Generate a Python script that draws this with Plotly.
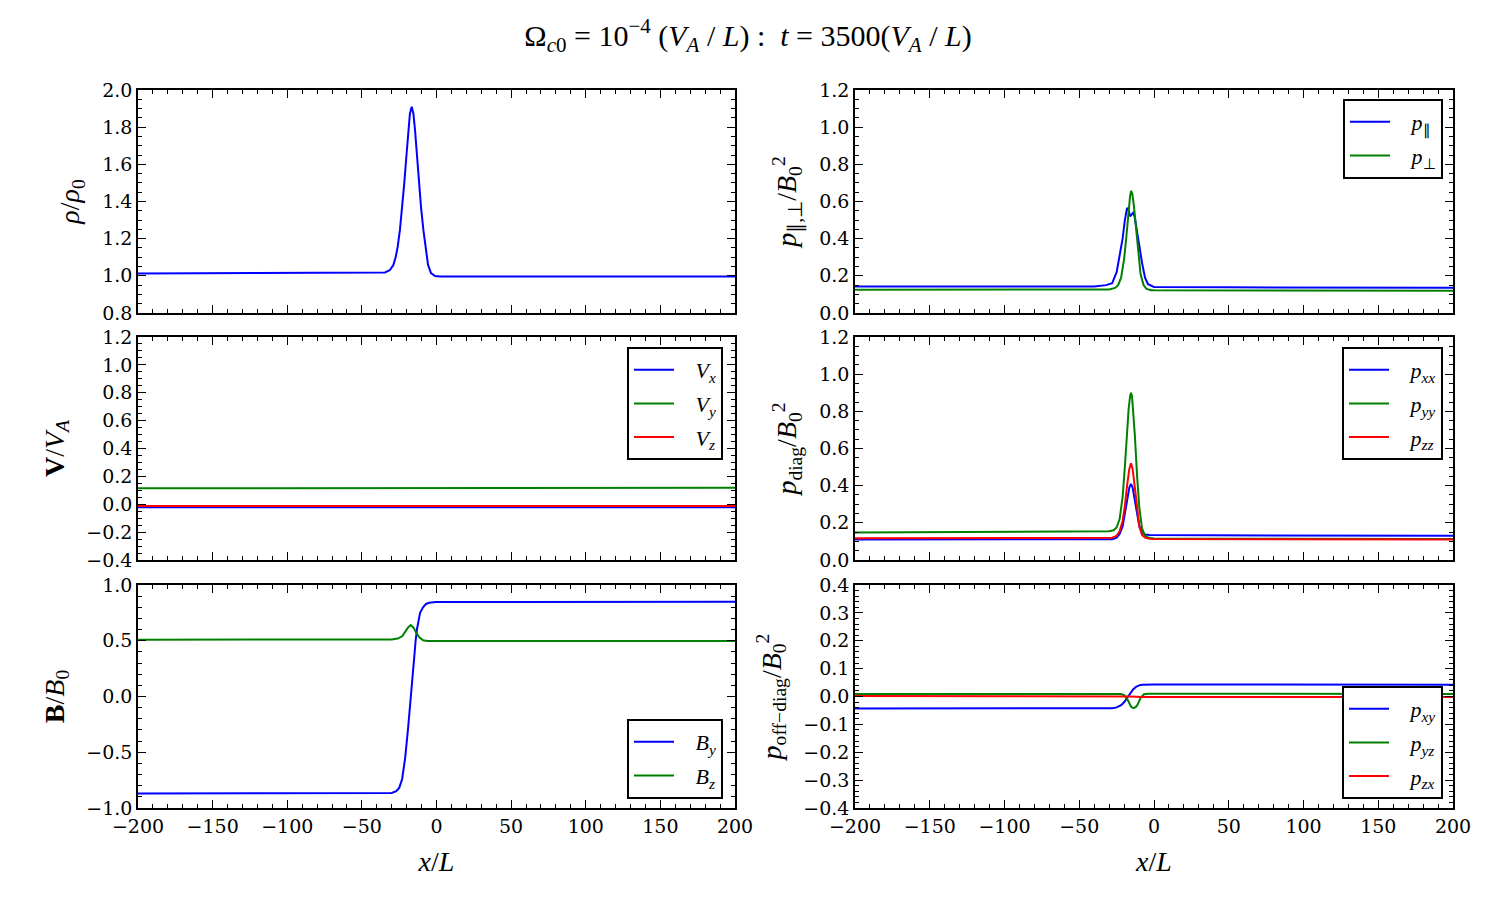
import plotly.graph_objects as go
from plotly.subplots import make_subplots

BLUE = "#0000ff"
GREEN = "#008000"
RED = "#ff0000"

# ---------------- data ----------------
# density
rho_x = [-200, -100, -40, -34.5, -31.2, -28.9, -27.3, -26.0, -24.5, -22.9, -21.6, -20.2, -18.9, -17.8, -16.6,
         -15.5, -14.4, -13.1, -11.7, -10.4, -8.8, -7.2, -5.7, -3.7, -1.0, 2.3, 100, 200]
rho_y = [1.013, 1.015, 1.016, 1.018, 1.031, 1.058, 1.103, 1.157, 1.247, 1.372, 1.498, 1.641, 1.785, 1.874, 1.910,
         1.874, 1.785, 1.641, 1.498, 1.372, 1.247, 1.14, 1.06, 1.015, 0.999, 0.996, 0.996, 0.997]

# velocity
vx_x = [-200, -100, 0, 100, 200]
vx_y = [-0.022, -0.022, -0.022, -0.022, -0.022]
vy_x = [-200, -100, 0, 100, 200]
vy_y = [0.114, 0.116, 0.117, 0.118, 0.119]
vz_x = [-200, -100, 0, 100, 200]
vz_y = [-0.012, -0.012, -0.012, -0.012, -0.012]

# magnetic field
by_x = [-200, -40, -30, -27, -25, -23, -21, -19, -17, -15, -14, -13, -11, -9, -7, -5, -2, 0, 50, 200]
by_y = [-0.87, -0.87, -0.865, -0.85, -0.82, -0.74, -0.55, -0.28, 0.0, 0.34, 0.50, 0.61, 0.75, 0.80, 0.83, 0.84, 0.845, 0.847, 0.848, 0.85]
bz_x = [-200, -40, -30, -26, -23, -21, -19, -17.3, -15.5, -13.5, -11.5, -9, -6, -2, 0, 200]
bz_y = [0.51, 0.51, 0.512, 0.52, 0.54, 0.58, 0.62, 0.64, 0.62, 0.57, 0.53, 0.505, 0.498, 0.498, 0.498, 0.497]

# parallel / perpendicular pressure
ppar_x = [-200, -100, -40, -32, -28, -25, -23, -21, -19.5, -18, -17, -16, -15, -14, -13, -11.5, -10, -9, -8, -6, -4, 0, 50, 200]
ppar_y = [0.142, 0.142, 0.143, 0.15, 0.16, 0.22, 0.30, 0.40, 0.50, 0.565, 0.555, 0.52, 0.53, 0.54, 0.52, 0.44, 0.37, 0.33, 0.27, 0.19, 0.155, 0.14, 0.138, 0.136]
pperp_x = [-200, -40, -30, -26, -24, -22, -20, -18.5, -17, -16, -15.3, -14.5, -13.5, -12, -10.5, -9, -7, -5, -2, 0, 200]
pperp_y = [0.125, 0.125, 0.127, 0.135, 0.15, 0.19, 0.29, 0.41, 0.56, 0.63, 0.658, 0.64, 0.58, 0.45, 0.31, 0.21, 0.15, 0.13, 0.123, 0.122, 0.12]

# diagonal pressure components
pxx_x = [-200, -40, -28, -25, -23, -21, -19.5, -18, -16.5, -15.4, -14.3, -12.8, -11.3, -9.8, -8, -6, -3, 0, 100, 200]
pxx_y = [0.11, 0.11, 0.112, 0.12, 0.14, 0.18, 0.24, 0.32, 0.39, 0.41, 0.39, 0.32, 0.24, 0.18, 0.15, 0.137, 0.134, 0.134, 0.133, 0.13]
pyy_x = [-200, -40, -30, -27, -25, -23, -21, -19.5, -18, -17, -16, -15.4, -14.7, -13.8, -12.8, -11.3, -9.8, -8, -6, -3, 0, 50, 200]
pyy_y = [0.148, 0.152, 0.155, 0.16, 0.175, 0.22, 0.34, 0.50, 0.70, 0.81, 0.88, 0.90, 0.88, 0.80, 0.67, 0.45, 0.28, 0.17, 0.13, 0.118, 0.116, 0.115, 0.113]
pzz_x = [-200, -40, -28, -25, -23, -21, -19.5, -18, -16.5, -15.4, -14.3, -12.8, -11.3, -9.8, -8, -6, -3, 0, 200]
pzz_y = [0.117, 0.118, 0.12, 0.13, 0.155, 0.21, 0.29, 0.40, 0.49, 0.52, 0.49, 0.39, 0.27, 0.18, 0.135, 0.12, 0.114, 0.113, 0.11]

# off-diagonal pressure components
pxy_x = [-200, -40, -28, -25, -22, -20, -18, -16, -14, -12, -10, -8, -5, 0, 50, 200]
pxy_y = [-0.043, -0.043, -0.042, -0.039, -0.031, -0.021, -0.006, 0.01, 0.025, 0.035, 0.040, 0.042, 0.043, 0.043, 0.043, 0.042]
pyz_x = [-200, -40, -22, -20, -17.8, -15.4, -13.8, -12.3, -11.1, -8.9, -6.7, -4, 0, 200]
pyz_y = [0.009, 0.009, 0.009, 0.005, -0.01, -0.036, -0.042, -0.038, -0.03, -0.005, 0.008, 0.01, 0.01, 0.009]
pzx_x = [-200, -40, -25, -16, -8, 0, 200]
pzx_y = [0.002, 0.002, 0.002, 0.0, -0.002, -0.002, -0.002]

x_ticks = [-200, -150, -100, -50, 0, 50, 100, 150, 200]

# ---------------- figure ----------------
fig = make_subplots(rows=3, cols=2, shared_xaxes=True)

MATH = "Liberation Serif"
TICK = "DejaVu Serif"


def add(x, y, color, row, col, name=None, legend=None):
    fig.add_trace(
        go.Scatter(
            x=x, y=y, mode="lines", line=dict(color=color, width=2),
            name=name, showlegend=name is not None,
            legend=legend, legendgroup=(name or "") + str(row) + str(col),
        ),
        row=row, col=col,
    )


SP = "&nbsp;&nbsp;&nbsp;"
add(rho_x, rho_y, BLUE, 1, 1)
add(vx_x, vx_y, BLUE, 2, 1, SP + "<i>V<sub>x</sub></i>", "legend")
add(vy_x, vy_y, GREEN, 2, 1, SP + "<i>V<sub>y</sub></i>", "legend")
add(vz_x, vz_y, RED, 2, 1, SP + "<i>V<sub>z</sub></i>", "legend")
add(by_x, by_y, BLUE, 3, 1, SP + "<i>B<sub>y</sub></i>", "legend2")
add(bz_x, bz_y, GREEN, 3, 1, SP + "<i>B<sub>z</sub></i>", "legend2")
add(ppar_x, ppar_y, BLUE, 1, 2, SP + "<i>p</i><sub>∥</sub>", "legend3")
add(pperp_x, pperp_y, GREEN, 1, 2, SP + "<i>p</i><sub>⊥</sub>", "legend3")
add(pxx_x, pxx_y, BLUE, 2, 2, SP + "<i>p<sub>xx</sub></i>", "legend4")
add(pyy_x, pyy_y, GREEN, 2, 2, SP + "<i>p<sub>yy</sub></i>", "legend4")
add(pzz_x, pzz_y, RED, 2, 2, SP + "<i>p<sub>zz</sub></i>", "legend4")
add(pxy_x, pxy_y, BLUE, 3, 2, SP + "<i>p<sub>xy</sub></i>", "legend5")
add(pyz_x, pyz_y, GREEN, 3, 2, SP + "<i>p<sub>yz</sub></i>", "legend5")
add(pzx_x, pzx_y, RED, 3, 2, SP + "<i>p<sub>zx</sub></i>", "legend5")

axis_common = dict(
    showline=True, linecolor="black", linewidth=1.5, mirror="allticks",
    ticks="inside", ticklen=8, tickwidth=1.2, tickcolor="black",
    showgrid=False, zeroline=False, automargin=False,
    tickfont=dict(family=TICK, size=19, color="black"),
)

xdom = {1: [138 / 1500, 735 / 1500], 2: [855 / 1500, 1453 / 1500]}
ydom = {1: [1 - 313 / 900, 1 - 90 / 900], 2: [1 - 560 / 900, 1 - 337 / 900], 3: [1 - 808 / 900, 1 - 585 / 900]}

for r in (1, 2, 3):
    for c in (1, 2):
        fig.update_xaxes(
            axis_common, domain=xdom[c], range=[-200, 200], tickvals=x_ticks,
            showticklabels=(r == 3),
            minor=dict(ticks="inside", ticklen=4, tickwidth=1, tickcolor="black", dtick=10, tick0=0, showgrid=False),
            row=r, col=c,
        )

y_specs = {
    (1, 1): ([0.8, 2.0], 0.2, 0.05, "<i>ρ</i>/<i>ρ</i><sub>0</sub>"),
    (2, 1): ([-0.4, 1.2], 0.2, 0.05, "<b>V</b>/<i>V<sub>A</sub></i>"),
    (3, 1): ([-1.0, 1.0], 0.5, 0.1, "<b>B</b>/<i>B</i><sub>0</sub>"),
    (1, 2): ([0.0, 1.2], 0.2, 0.05, "<i>p</i><sub>∥,⊥</sub>/<i>B</i><sub>0</sub><sup>2</sup>"),
    (2, 2): ([0.0, 1.2], 0.2, 0.05, "<i>p</i><sub>diag</sub>/<i>B</i><sub>0</sub><sup>2</sup>"),
    (3, 2): ([-0.4, 0.4], 0.1, 0.02, "<i>p</i><sub>off−diag</sub>/<i>B</i><sub>0</sub><sup>2</sup>"),
}
for (r, c), (rng, dt, mdt, title) in y_specs.items():
    fig.update_yaxes(
        axis_common, domain=ydom[r], range=rng, dtick=dt, tick0=0, tickformat=".1f",
        minor=dict(ticks="inside", ticklen=4, tickwidth=1, tickcolor="black", dtick=mdt, tick0=0, showgrid=False),
        title=dict(text=title, font=dict(family=MATH, size=28, color="black"), standoff=14),
        row=r, col=c,
    )

for c in (1, 2):
    fig.update_xaxes(
        title=dict(text="<i>x</i>/<i>L</i>", font=dict(family=MATH, size=28, color="black"), standoff=16),
        row=3, col=c,
    )

leg_common = dict(
    bgcolor="white", bordercolor="black", borderwidth=2,
    font=dict(family=MATH, size=22, color="black"),
    tracegroupgap=2, itemwidth=40,
)
fig.update_layout(
    width=1500, height=900, autosize=False,
    margin=dict(l=0, r=0, t=0, b=0),
    paper_bgcolor="white", plot_bgcolor="white",
    title=dict(
        text="Ω<sub><i>c</i>0</sub> = 10<sup>−4</sup> (<i>V<sub>A</sub></i> / <i>L</i>) :  <i>t</i> = 3500(<i>V<sub>A</sub></i> / <i>L</i>)",
        x=0.4987, xanchor="center", y=1 - 35 / 900, yanchor="middle",
        font=dict(family=MATH, size=30, color="black"),
    ),
    legend=dict(leg_common, x=723 / 1500, xanchor="right", y=1 - 347 / 900, yanchor="top"),
    legend2=dict(leg_common, x=723 / 1500, xanchor="right", y=1 - 799 / 900, yanchor="bottom"),
    legend3=dict(leg_common, x=1443 / 1500, xanchor="right", y=1 - 99 / 900, yanchor="top"),
    legend4=dict(leg_common, x=1443 / 1500, xanchor="right", y=1 - 347 / 900, yanchor="top"),
    legend5=dict(leg_common, x=1443 / 1500, xanchor="right", y=1 - 799 / 900, yanchor="bottom"),
)

fig.write_html("out.html")
